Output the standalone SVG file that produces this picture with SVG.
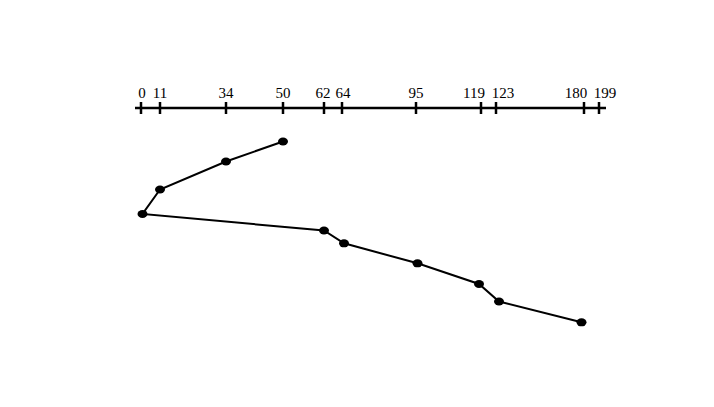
<svg xmlns="http://www.w3.org/2000/svg" width="714" height="407" viewBox="0 0 714 407">
<style>
.lbl{font-family:"Liberation Serif","DejaVu Serif",serif;font-size:15px;fill:#000;text-anchor:middle}
.ax{stroke:#000;stroke-width:2.5;fill:none}
.tk{stroke:#000;stroke-width:2.5}
.edge{stroke:#000;stroke-width:2;fill:none}
.dot{fill:#000}
</style>
<rect width="714" height="407" fill="#fff"/>
<g id="axis">
<line class="ax" x1="135" y1="108" x2="606" y2="108"/>
<g class="tk">
<line x1="141" y1="102" x2="141" y2="114"/>
<line x1="160" y1="102" x2="160" y2="114"/>
<line x1="226" y1="102" x2="226" y2="114"/>
<line x1="283" y1="102" x2="283" y2="114"/>
<line x1="324" y1="102" x2="324" y2="114"/>
<line x1="342" y1="102" x2="342" y2="114"/>
<line x1="416" y1="102" x2="416" y2="114"/>
<line x1="481" y1="102" x2="481" y2="114"/>
<line x1="496" y1="102" x2="496" y2="114"/>
<line x1="584" y1="102" x2="584" y2="114"/>
<line x1="599" y1="102" x2="599" y2="114"/>
</g>
<text class="lbl" x="142" y="98">0</text>
<text class="lbl" x="160" y="98">11</text>
<text class="lbl" x="226" y="98">34</text>
<text class="lbl" x="283" y="98">50</text>
<text class="lbl" x="323" y="98">62</text>
<text class="lbl" x="343" y="98">64</text>
<text class="lbl" x="416" y="98">95</text>
<text class="lbl" x="474" y="98">119</text>
<text class="lbl" x="503" y="98">123</text>
<text class="lbl" x="576" y="98">180</text>
<text class="lbl" x="605" y="98">199</text>
</g>
<g id="connectors">
<polyline class="edge" points="283,141.5 226,161.5 160,189.5 142.5,214 324,230.5 344,243.3 417.5,263.3 479,284 499,301.5 581.5,322.3"/>
</g>
<g id="n50"><ellipse class="dot" cx="283" cy="141.5" rx="5" ry="4"/></g>
<g id="n34"><ellipse class="dot" cx="226" cy="161.5" rx="5" ry="4"/></g>
<g id="n11"><ellipse class="dot" cx="160" cy="189.5" rx="5" ry="4"/></g>
<g id="n0"><ellipse class="dot" cx="142.5" cy="214" rx="5" ry="4"/></g>
<g id="n62"><ellipse class="dot" cx="324" cy="230.5" rx="5" ry="4"/></g>
<g id="n64"><ellipse class="dot" cx="344" cy="243.3" rx="5" ry="4"/></g>
<g id="n95"><ellipse class="dot" cx="417.5" cy="263.3" rx="5" ry="4"/></g>
<g id="n119"><ellipse class="dot" cx="479" cy="284" rx="5" ry="4"/></g>
<g id="n123"><ellipse class="dot" cx="499" cy="301.5" rx="5" ry="4"/></g>
<g id="n180"><ellipse class="dot" cx="581.5" cy="322.3" rx="5" ry="4"/></g>
</svg>
